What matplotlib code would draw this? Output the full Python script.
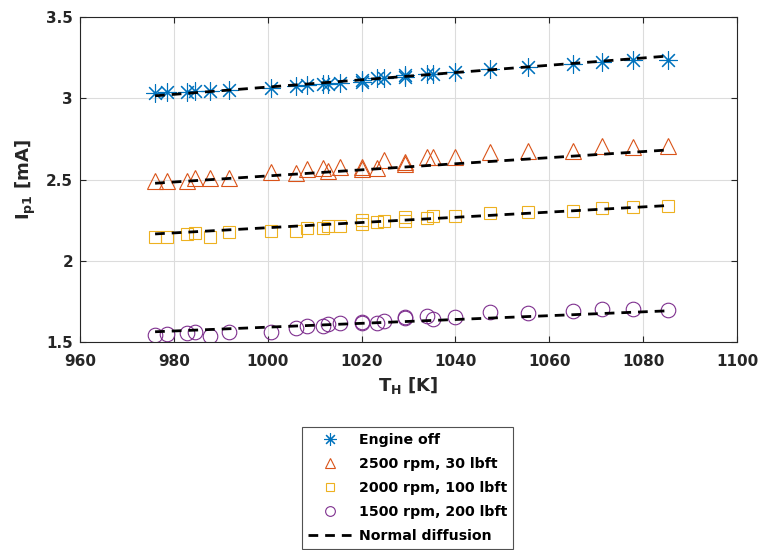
import matplotlib
matplotlib.use('Agg')
import matplotlib.pyplot as plt
from matplotlib.ticker import FormatStrFormatter

# temperature of the heater [K] (two repeats near 1020 and 1029)
t_h = [976.0, 978.6, 982.9, 984.5, 987.7, 991.8, 1000.8, 1006.0, 1008.3, 1011.7,
       1012.9, 1015.4, 1020.0, 1020.0, 1023.2, 1024.8, 1029.3, 1029.3, 1034.0,
       1035.2, 1039.9, 1047.4, 1055.5, 1065.1, 1071.2, 1077.9, 1085.4]

engine_off = [3.030, 3.036, 3.036, 3.047, 3.047, 3.051, 3.061, 3.075, 3.082, 3.088,
              3.088, 3.092, 3.112, 3.102, 3.123, 3.123, 3.133, 3.143, 3.149,
              3.149, 3.163, 3.178, 3.194, 3.211, 3.225, 3.235, 3.233]
rpm2500 = [2.493, 2.493, 2.493, 2.511, 2.511, 2.511, 2.548, 2.538, 2.567, 2.573,
           2.552, 2.579, 2.575, 2.565, 2.573, 2.620, 2.606, 2.598, 2.640,
           2.640, 2.640, 2.667, 2.675, 2.675, 2.706, 2.700, 2.706]
rpm2000 = [2.148, 2.148, 2.163, 2.169, 2.148, 2.179, 2.185, 2.183, 2.200, 2.200,
           2.214, 2.214, 2.251, 2.226, 2.236, 2.246, 2.267, 2.246, 2.261,
           2.275, 2.275, 2.296, 2.302, 2.308, 2.323, 2.329, 2.337]
rpm1500 = [1.543, 1.547, 1.557, 1.563, 1.539, 1.563, 1.563, 1.584, 1.598, 1.598,
           1.611, 1.619, 1.625, 1.615, 1.619, 1.631, 1.646, 1.652, 1.660,
           1.640, 1.656, 1.687, 1.677, 1.691, 1.705, 1.705, 1.697]

# normal diffusion fits, end points
fit_t = [976.0, 1085.4]
fit_engine_off = [3.015, 3.260]
fit_2500 = [2.477, 2.682]
fit_2000 = [2.165, 2.340]
fit_1500 = [1.563, 1.692]

labels = ['Engine off', '2500 rpm, 30 lbft', '2000 rpm, 100 lbft',
          '1500 rpm, 200 lbft', 'Normal diffusion']

plt.rcParams['font.family'] = ['DejaVu Sans']
plt.rcParams['font.weight'] = 'bold'

fig = plt.figure(figsize=(7.6, 5.5), dpi=100)
ax = fig.add_axes([80/760, 1-342/550, 657/760, 325/550])

ax.plot(t_h, engine_off, ls='none', marker=(8, 2, 0), ms=13, mew=0.8,
        color='#0072BD', label=labels[0])
ax.plot(t_h, rpm2500, ls='none', marker='^', ms=11, mew=0.8, mfc='none',
        color='#D95319', label=labels[1])
ax.plot(t_h, rpm2000, ls='none', marker='s', ms=9, mew=0.8, mfc='none',
        color='#EDB120', label=labels[2])
ax.plot(t_h, rpm1500, ls='none', marker='o', ms=10.5, mew=0.8, mfc='none',
        color='#7E2F8E', label=labels[3])

dash = (0, (3.5, 2.5))
ax.plot(fit_t, fit_engine_off, color='k', lw=2, ls=dash, label=labels[4])
ax.plot(fit_t, fit_2500, color='k', lw=2, ls=dash)
ax.plot(fit_t, fit_2000, color='k', lw=2, ls=dash)
ax.plot(fit_t, fit_1500, color='k', lw=2, ls=dash)

ax.set_xlim(960, 1100)
ax.set_ylim(1.5, 3.5)
ax.set_xticks(range(960, 1101, 20))
ax.set_yticks([1.5, 2, 2.5, 3, 3.5])
ax.yaxis.set_major_formatter(FormatStrFormatter('%g'))
ax.grid(True, color='#dcdcdc', lw=0.8)
ax.set_axisbelow(True)
for s in ax.spines.values():
    s.set_color('#262626')
    s.set_linewidth(0.8)
ax.tick_params(direction='in', length=4, width=0.8, colors='#262626',
               labelsize=11, top=True, right=True)
ax.tick_params(axis='x', pad=9)
ax.tick_params(axis='y', pad=5)
for lab in ax.get_xticklabels() + ax.get_yticklabels():
    lab.set_fontweight('bold')

ax.set_xlabel(r'T$_{\mathbf{H}}$ [K]', fontsize=13, fontweight='bold',
              color='#262626', labelpad=4)
ax.set_ylabel(r'I$_{\mathbf{p1}}$ [mA]', fontsize=13, fontweight='bold',
              color='#262626', labelpad=6)

leg = fig.legend(loc='upper left', bbox_to_anchor=(302/760, 1-427/550),
                 bbox_transform=fig.transFigure, fontsize=10.2, frameon=True,
                 fancybox=False, edgecolor='#262626', handlelength=3.1,
                 handletextpad=0.45, borderpad=0.45, labelspacing=0.7,
                 borderaxespad=0)
leg.get_frame().set_linewidth(0.8)
for h, ms in zip(leg.legend_handles[:4], [9, 7, 5.5, 7]):
    h.set_markersize(ms)
for txt in leg.get_texts():
    txt.set_fontweight('bold')

fig.savefig('out.png', dpi=100)
